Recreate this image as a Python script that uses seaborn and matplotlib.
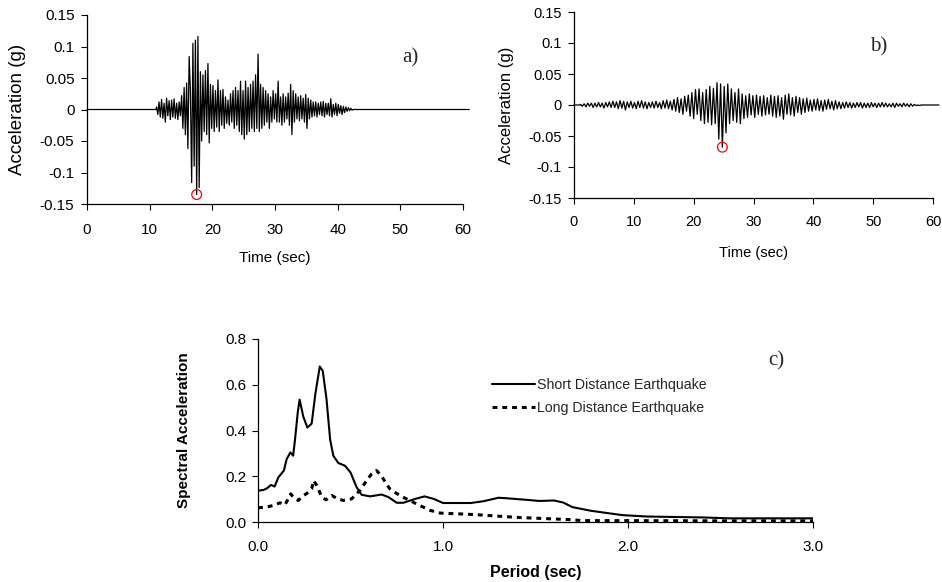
import numpy as np
import pandas as pd
import matplotlib
matplotlib.use("Agg")
import matplotlib.pyplot as plt
from matplotlib.lines import Line2D
import seaborn as sns

sns.set_theme(style="ticks")
plt.rcParams['font.family'] = ['Liberation Sans', 'DejaVu Sans']

# ---------------- data ----------------
# a) short distance earthquake accelerogram (g), sampled every 0.2 s from 11.1 s
a_start, a_step = 11.1, 0.2
acc_a = [0.004, -0.008, 0.012, -0.012, 0.016, -0.014, 0.010, -0.020, 0.018, -0.010,
         0.014, -0.016, 0.015, -0.012, 0.017, -0.014, 0.010, -0.016, 0.012, -0.010,
         0.022, -0.030, 0.035, -0.040, 0.042, -0.062, 0.084, 0.030, -0.116, 0.105,
         -0.090, 0.110, -0.135, 0.116, -0.124, 0.060, -0.050, 0.055, -0.035, 0.062,
         -0.040, 0.073, -0.053, 0.040, -0.030, 0.038, -0.035, 0.030, -0.028, 0.047,
         -0.035, 0.030, -0.025, 0.032, -0.030, 0.020, -0.022, 0.015, -0.025, 0.025,
         -0.020, 0.030, -0.030, 0.035, -0.025, 0.030, -0.035, 0.045, -0.040, 0.030,
         -0.047, 0.045, -0.040, 0.035, -0.035, 0.040, -0.030, 0.045, -0.035, 0.055,
         -0.030, 0.088, -0.035, 0.040, -0.030, 0.035, -0.025, 0.030, -0.020, 0.025,
         -0.030, 0.020, -0.020, 0.030, -0.015, 0.025, -0.020, 0.045, -0.020, 0.020,
         -0.025, 0.025, -0.020, 0.020, -0.015, 0.026, -0.025, 0.040, -0.040, 0.030,
         -0.020, 0.025, -0.015, 0.020, -0.018, 0.022, -0.015, 0.018, -0.020, 0.024,
         -0.030, 0.018, -0.015, 0.015, -0.012, 0.012, -0.010, 0.012, -0.012, 0.010,
         -0.008, 0.012, -0.010, 0.013, -0.012, 0.010, -0.008, 0.010, -0.010, 0.017,
         -0.012, 0.008, -0.008, 0.010, -0.010, 0.008, -0.006, 0.006, -0.008, 0.005,
         -0.005, 0.004, -0.003, 0.003, -0.002, 0.002, -0.001, 0.000]

# b) long distance earthquake accelerogram (g), sampled every 0.3 s from 1.1 s
b_start, b_step = 1.1, 0.3
acc_b = [0.001, -0.002, 0.002, -0.003, 0.003, -0.002, 0.003, -0.004, 0.003, -0.003,
         0.004, -0.003, 0.003, -0.005, 0.004, -0.003, 0.005, -0.004, 0.006, -0.004,
         0.005, -0.006, 0.007, -0.005, 0.006, -0.008, 0.005, -0.004, 0.006, -0.005,
         0.004, -0.006, 0.006, -0.004, 0.007, -0.005, 0.005, -0.006, 0.004, -0.004,
         0.005, -0.005, 0.006, -0.004, 0.004, -0.006, 0.007, -0.005, 0.008, -0.006,
         0.006, -0.008, 0.009, -0.010, 0.012, -0.012, 0.010, -0.015, 0.014, -0.010,
         0.016, -0.018, 0.020, -0.022, 0.025, -0.015, 0.026, -0.025, 0.020, -0.030,
         0.025, -0.028, 0.030, -0.032, 0.027, -0.030, 0.036, -0.055, 0.034, -0.068,
         0.030, -0.045, 0.034, -0.030, 0.026, -0.025, 0.020, -0.028, 0.026, -0.030,
         0.018, -0.022, 0.015, -0.020, 0.018, -0.016, 0.015, -0.020, 0.016, -0.015,
         0.014, -0.018, 0.015, -0.016, 0.012, -0.015, 0.016, -0.018, 0.014, -0.020,
         0.015, -0.018, 0.012, -0.023, 0.016, -0.015, 0.018, -0.016, 0.012, -0.018,
         0.014, -0.012, 0.012, -0.015, 0.010, -0.012, 0.011, -0.010, 0.008, -0.010,
         0.009, -0.008, 0.010, -0.009, 0.007, -0.010, 0.008, -0.007, 0.009, -0.006,
         0.006, -0.008, 0.007, -0.006, 0.005, -0.006, 0.004, -0.005, 0.005, -0.004,
         0.004, -0.005, 0.003, -0.004, 0.004, -0.003, 0.004, -0.005, 0.003, -0.004,
         0.003, -0.004, 0.004, -0.003, 0.003, -0.004, 0.003, -0.003, 0.004, -0.003,
         0.003, -0.003, 0.002, -0.003, 0.003, -0.004, 0.003, -0.002, 0.002, -0.003,
         0.003, -0.002, 0.002, -0.003, 0.002, -0.002, 0.001, -0.001, 0.000, -0.001]

# quiet parts of the records (time s) where acceleration is zero
a_quiet_before, a_quiet_after = [0.0, 11.0], [42.7, 61.0]
b_quiet_before, b_quiet_after = [0.0, 1.0], [58.0, 61.0]

# c) response spectra
period_short = [0.00, 0.03, 0.05, 0.07, 0.09, 0.11, 0.14, 0.155, 0.175, 0.19, 0.20, 0.215,
                0.225, 0.245, 0.267, 0.29, 0.31, 0.334, 0.35, 0.37, 0.39, 0.407, 0.434,
                0.47, 0.50, 0.533, 0.56, 0.605, 0.668, 0.705, 0.75, 0.786, 0.85, 0.90,
                0.95, 1.00, 1.15, 1.22, 1.30, 1.34, 1.45, 1.52, 1.60, 1.65, 1.70, 1.80,
                1.88, 1.97, 2.10, 2.40, 2.55, 3.00]
sa_short = [0.137, 0.140, 0.148, 0.162, 0.155, 0.195, 0.225, 0.275, 0.304, 0.290, 0.36,
            0.48, 0.535, 0.46, 0.413, 0.43, 0.56, 0.68, 0.66, 0.54, 0.36, 0.29, 0.258,
            0.246, 0.217, 0.152, 0.119, 0.112, 0.120, 0.109, 0.084, 0.084, 0.101, 0.112,
            0.101, 0.083, 0.083, 0.091, 0.106, 0.104, 0.097, 0.092, 0.094, 0.085, 0.065,
            0.049, 0.040, 0.030, 0.024, 0.020, 0.016, 0.016]
period_long = [0.00, 0.04, 0.083, 0.119, 0.146, 0.177, 0.19, 0.218, 0.236, 0.272, 0.29,
               0.30, 0.32, 0.344, 0.368, 0.398, 0.425, 0.461, 0.506, 0.551, 0.587, 0.614,
               0.641, 0.668, 0.712, 0.766, 0.82, 0.875, 0.93, 0.984, 1.074, 1.18, 1.29,
               1.40, 1.55, 1.70, 1.75, 2.00, 2.50, 3.00]
sa_long = [0.062, 0.065, 0.072, 0.084, 0.075, 0.123, 0.109, 0.094, 0.109, 0.130, 0.145,
           0.181, 0.157, 0.109, 0.097, 0.116, 0.104, 0.094, 0.101, 0.138, 0.181, 0.210,
           0.225, 0.200, 0.145, 0.116, 0.094, 0.072, 0.051, 0.039, 0.036, 0.032, 0.026,
           0.020, 0.015, 0.010, 0.006, 0.006, 0.005, 0.005]

acc_ticks = [-0.15, -0.1, -0.05, 0, 0.05, 0.1, 0.15]
acc_tick_labels = ["-0.15", "-0.1", "-0.05", "0", "0.05", "0.1", "0.15"]
time_ticks = [0, 10, 20, 30, 40, 50, 60]
period_ticks = [0.0, 1.0, 2.0, 3.0]
period_tick_labels = ["0.0", "1.0", "2.0", "3.0"]
sa_ticks = [0.0, 0.2, 0.4, 0.6, 0.8]
sa_tick_labels = ["0.0", "0.2", "0.4", "0.6", "0.8"]
series_names = ["Short Distance Earthquake", "Long Distance Earthquake"]


def record(start, step, vals, before, after):
    t = list(before) + [start + step * i for i in range(len(vals))] + list(after)
    v = [0.0] * len(before) + list(vals) + [0.0] * len(after)
    return pd.DataFrame({"t": t, "a": v})


df_a = record(a_start, a_step, acc_a, a_quiet_before, a_quiet_after)
df_b = record(b_start, b_step, acc_b, b_quiet_before, b_quiet_after)

W, H = 942, 582
fig = plt.figure(figsize=(W / 100, H / 100), dpi=100)
fig.patch.set_facecolor("white")


def px_axes(l, t, r, b):
    return fig.add_axes([l / W, 1 - b / H, (r - l) / W, (b - t) / H])


def style_axes(ax, fs):
    ax.set_facecolor("white")
    for s in ["top", "right"]:
        ax.spines[s].set_visible(False)
    for s in ["left", "bottom"]:
        ax.spines[s].set_color("black")
        ax.spines[s].set_linewidth(0.9)
    ax.tick_params(axis="both", direction="out", length=4, width=0.8,
                   colors="black", labelsize=fs)


ax_a = px_axes(87, 15, 463, 204)
ax_b = px_axes(574, 12, 933, 198)
ax_c = px_axes(258, 339, 813, 522)

panel_cfg = [
    # ax, df, letter, letter pos, xtick pad, tick fs, xlabel fs, ylabel fs
    (ax_a, df_a, "a)", (410, 58), 10, 11, 11, 13.5),
    (ax_b, df_b, "b)", (879, 47), 8, 10.5, 10.5, 12),
]
for ax, df, lbl, (lx, ly), xpad, tfs, xfs, yfs in panel_cfg:
    sns.lineplot(data=df, x="t", y="a", ax=ax, color="black", linewidth=0.9,
                 sort=False, estimator=None, clip_on=False)
    i_min = int(np.argmin(df["a"].values))
    sns.scatterplot(x=[df["t"].values[i_min]], y=[df["a"].values[i_min]], ax=ax,
                    marker="o", s=50, facecolor="none", edgecolor="red",
                    linewidth=0.9, zorder=5, clip_on=False)
    ax.set_xlim(0, 60)
    ax.set_ylim(-0.15, 0.15)
    ax.set_xticks(time_ticks)
    ax.set_xticklabels([str(v) for v in time_ticks])
    ax.set_yticks(acc_ticks)
    ax.set_yticklabels(acc_tick_labels)
    style_axes(ax, tfs)
    ax.tick_params(axis="x", pad=xpad)
    ax.tick_params(axis="y", pad=5)
    ax.set_xlabel("Time (sec)", fontsize=xfs, color="black")
    ax.set_ylabel("Acceleration (g)", fontsize=yfs, color="black")
    fig.text(lx / W, 1 - ly / H, lbl, fontsize=15, family="Liberation Serif",
             ha="center", va="center")

ax_a.xaxis.set_label_coords(0.5, (204 - 251) / 189)
ax_a.yaxis.set_label_coords((26 - 87) / 376, 0.5)
ax_b.xaxis.set_label_coords(0.5, (198 - 246) / 186)
ax_b.yaxis.set_label_coords((514 - 574) / 359, 0.5)

# c) spectra
df_c = pd.concat([
    pd.DataFrame({"T": period_short, "SA": sa_short, "rec": series_names[0]}),
    pd.DataFrame({"T": period_long, "SA": sa_long, "rec": series_names[1]}),
])
sns.lineplot(data=df_c, x="T", y="SA", hue="rec", style="rec", ax=ax_c,
             palette=["black", "black"], dashes=[(None, None), (1.6, 1.8)],
             estimator=None, sort=False, legend=False, linewidth=1.8)
lines = ax_c.get_lines()
lines[0].set_linewidth(1.5)
lines[1].set_linewidth(2.2)
lines[1].set_dashes((1.6, 1.6))
ax_c.set_xlim(0, 3)
ax_c.set_ylim(0, 0.8)
ax_c.set_xticks(period_ticks)
ax_c.set_xticklabels(period_tick_labels)
ax_c.set_yticks(sa_ticks)
ax_c.set_yticklabels(sa_tick_labels)
style_axes(ax_c, 11)
ax_c.tick_params(axis="x", pad=9)
ax_c.tick_params(axis="y", pad=4)
ax_c.set_xlabel("Period (sec)", fontsize=11.5, fontweight="bold", color="black")
ax_c.set_ylabel("Spectral Acceleration", fontsize=11, fontweight="bold", color="black")
ax_c.xaxis.set_label_coords(0.5, (522 - 565) / 183)
ax_c.yaxis.set_label_coords((191 - 258) / 555, 0.5)

handles = [Line2D([], [], color="black", linewidth=1.5),
           Line2D([], [], color="black", linewidth=2.2, dashes=(1.6, 1.6))]
leg = ax_c.legend(handles, series_names, loc="upper left",
                  bbox_to_anchor=(492 / W, 1 - 378 / H), bbox_transform=fig.transFigure,
                  frameon=False, fontsize=10.2, handlelength=3.0, handletextpad=0.2,
                  labelspacing=0.62, borderpad=0, borderaxespad=0)
fig.text(776 / W, 1 - 361 / H, "c)", fontsize=15, family="Liberation Serif",
         ha="center", va="center")

fig.savefig("out.png", dpi=100, facecolor="white")
